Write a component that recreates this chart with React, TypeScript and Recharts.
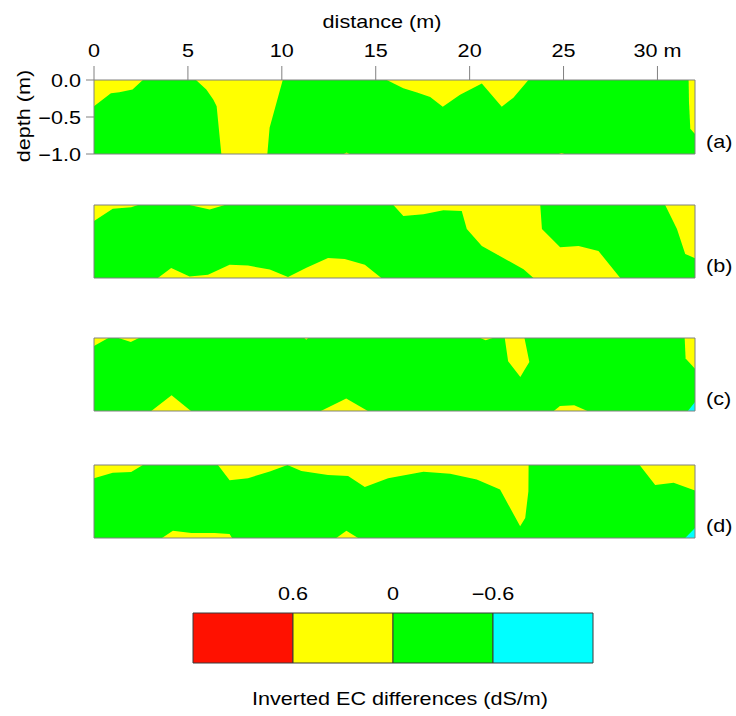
import React from 'react';
import { ComposedChart, Area, XAxis, YAxis, ReferenceLine, ReferenceArea, Label } from 'recharts';

// each point: [distance (m), lower depth, upper depth]
type Pt = [number, number, number];

const distanceTicks = [0, 5, 10, 15, 20, 25, 30];
const depthTicks = [0, -0.5, -1];
const sideTicks = [-0.5, -1];
const panelTags = ['(a)', '(b)', '(c)', '(d)'];

const fullSection: Pt[] = [[0, -1, 0], [32, -1, 0]];

// (a)
const aYellowLeft: Pt[] = [[0, -0.355, 0], [0.9, -0.18, 0], [1.35, -0.164, 0], [2.05, -0.127, 0], [2.6, 0, 0]];
const aYellowWedge: Pt[] = [[5.43, 0, 0], [5.98, -0.127, 0], [6.35, -0.264, 0], [6.53, -0.355, 0], [6.78, -1, 0], [9.23, -1, 0], [9.35, -0.645, 0], [10.05, 0, 0]];
const aYellowMid: Pt[] = [[15.59, 0, 0], [16.47, -0.11, 0], [17.2, -0.17, 0], [17.9, -0.23, 0], [18.57, -0.36, 0], [19.49, -0.2, 0], [20.65, -0.046, 0], [21.71, -0.36, 0], [22.33, -0.24, 0], [23.13, 0, 0]];
const aYellowRight: Pt[] = [[31.66, 0, 0], [31.68, -0.3, 0], [31.75, -0.66, 0], [32, -0.73, 0]];
const aYellowDot1: Pt[] = [[13.3, -1, -1], [13.45, -1, -0.98], [13.6, -1, -1]];
const aYellowDot2: Pt[] = [[24.75, -1, -1], [24.9, -1, -0.985], [25.05, -1, -1]];

// (b)
const bYellowLeft: Pt[] = [[0, -0.22, 0], [1.0, -0.05, 0], [1.98, -0.03, 0], [2.34, 0, 0]];
const bYellowTop: Pt[] = [[5.09, 0, 0], [6.16, -0.06, 0], [6.96, 0, 0]];
const bYellowBand: Pt[] = [
  [15.94, 0, 0], [16.47, -0.15, 0], [17.54, -0.127, 0], [18.6, -0.073, 0], [19.58, -0.082, 0],
  [19.85, -0.33, 0], [20.65, -0.56, 0], [21.89, -0.74, 0], [22.87, -0.88, 0], [23.4, -1, 0],
  [23.76, -1, 0], [23.85, -1, -0.33], [24.82, -1, -0.58], [25.8, -1, -0.56], [26.86, -1, -0.63], [28.02, -1, -1],
];
const bYellowRight: Pt[] = [[30.41, 0, 0], [31.04, -0.33, 0], [31.48, -0.67, 0], [32, -0.73, 0]];
const bYellowBottom: Pt[] = [
  [3.4, -1, -1], [4.11, -1, -0.862], [5.09, -1, -0.98], [6.07, -1, -0.954], [7.22, -1, -0.817],
  [8.2, -1, -0.83], [9.36, -1, -0.885], [10.33, -1, -0.986], [11.31, -1, -0.86], [12.46, -1, -0.725],
  [13.35, -1, -0.74], [14.42, -1, -0.817], [15.3, -1, -1],
];

// (c)
const cYellowCorner: Pt[] = [[0, -0.11, 0], [0.76, 0, 0]];
const cYellowTop1: Pt[] = [[1.31, 0, 0], [1.96, -0.055, 0], [2.39, 0, 0]];
const cYellowTop2: Pt[] = [[11.2, 0, 0], [11.3, -0.025, 0], [11.4, 0, 0]];
const cYellowTop3: Pt[] = [[20.57, 0, 0], [20.85, -0.03, 0], [21.22, 0, 0]];
const cYellowWedge: Pt[] = [[21.87, 0, 0], [22.05, -0.32, 0], [22.7, -0.534, 0], [22.92, -0.44, 0], [23.18, -0.33, -0.33]];
const cYellowRight: Pt[] = [[31.45, 0, 0], [31.5, -0.28, 0], [32, -0.42, 0]];
const cYellowBottom1: Pt[] = [[3.05, -1, -1], [4.13, -1, -0.785], [5.16, -1, -1]];
const cYellowBottom2: Pt[] = [[12.08, -1, -1], [13.43, -1, -0.83], [14.58, -1, -1]];
const cYellowBottom3: Pt[] = [[24.48, -1, -1], [24.81, -1, -0.93], [25.57, -1, -0.92], [26.27, -1, -1]];
const cCyanCorner: Pt[] = [[31.62, -1, -1], [32, -1, -0.877]];

// (d)
const dYellowLeft: Pt[] = [[0, -0.18, 0], [1.0, -0.105, 0], [1.98, -0.096, 0], [2.6, 0, 0]];
const dYellowMid: Pt[] = [
  [6.6, 0, 0], [7.22, -0.21, 0], [8.2, -0.18, 0], [9.36, -0.09, 0], [10.3, 0, 0], [11.04, -0.083, 0],
  [12.46, -0.138, 0], [13.53, -0.15, 0], [14.42, -0.3, 0], [15.66, -0.18, 0], [17.54, -0.092, 0],
  [18.96, -0.12, 0], [20.38, -0.197, 0], [21.62, -0.335, 0], [22.69, -0.84, 0], [22.96, -0.725, 0],
  [23.13, -0.358, 0], [23.14, 0, 0],
];
const dYellowRight: Pt[] = [[29.05, 0, 0], [29.88, -0.275, 0], [30.86, -0.243, 0], [32, -0.349, 0]];
const dYellowBottom1: Pt[] = [[3.62, -1, -1], [4.2, -1, -0.9], [5.18, -1, -0.93], [6.42, -1, -0.93], [7.22, -1, -0.945], [7.35, -1, -1]];
const dYellowBottom2: Pt[] = [[12.9, -1, -1], [13.44, -1, -0.9], [14.06, -1, -1]];
const dCyanCorner: Pt[] = [[31.48, -1, -1], [32, -1, -0.862]];

// colour scale
const ecBreaks = [1.2, 0.6, 0, -0.6, -1.2];
const ecTicks = [0.6, 0, -0.6];

const RED = '#ff1100';
const YELLOW = '#ffff00';
const GREEN = '#00ff00';
const CYAN = '#00ffff';
const ecColors = [RED, YELLOW, GREEN, CYAN];

const panels: { fill: string; pts: Pt[] }[][] = [
  [aYellowLeft, aYellowWedge, aYellowMid, aYellowRight, aYellowDot1, aYellowDot2].map(pts => ({ fill: YELLOW, pts })),
  [bYellowLeft, bYellowTop, bYellowBand, bYellowRight, bYellowBottom].map(pts => ({ fill: YELLOW, pts })),
  [
    ...[cYellowCorner, cYellowTop1, cYellowTop2, cYellowTop3, cYellowWedge, cYellowRight, cYellowBottom1, cYellowBottom2, cYellowBottom3].map(pts => ({ fill: YELLOW, pts })),
    { fill: CYAN, pts: cCyanCorner },
  ],
  [
    ...[dYellowLeft, dYellowMid, dYellowRight, dYellowBottom1, dYellowBottom2].map(pts => ({ fill: YELLOW, pts })),
    { fill: CYAN, pts: dCyanCorner },
  ],
];

// layout
const plotTops = [80, 205, 338, 465];
const plotHeights = [74, 73, 73, 73];
const FRAME = '#808080';
const FONT = '"Liberation Sans", Arial, sans-serif';

const rows = (pts: Pt[]) => pts.map(([x, lo, hi]) => ({ x, r: [lo, hi] }));
const ecRows = ecBreaks.map(v => ({ x: v, r: [0, 1] }));

const fmtDist = (v: number) => (v === 30 ? '30 m' : String(v));
const fmtDepth = (v: number) => (v === 0 ? '0.0' : '\u2212' + Math.abs(v).toFixed(1));
const fmtEc = (v: number) => (v === 0 ? '0' : v < 0 ? '\u2212' + Math.abs(v) : String(v));

// text in the figure is drawn a bit wider than the font
const SText = ({ x, y, rot = 0, anchor = 'middle', children }: any) => (
  <text
    transform={`translate(${x} ${y}) rotate(${rot}) scale(1.2 1)`}
    textAnchor={anchor}
    fontFamily={FONT}
    fontSize={18}
    fill="#000"
  >
    {children}
  </text>
);

const Panel = ({ idx }: { idx: number }) => {
  const first = idx === 0;
  const mTop = first ? 0 : 10;
  const xH = first ? 80 : 0;
  const plotH = plotHeights[idx];
  const height = mTop + xH + plotH + 10;
  const chartTop = plotTops[idx] - mTop - xH;

  return (
    <div style={{ position: 'absolute', left: 0, top: chartTop }}>
      <ComposedChart width={736} height={height} margin={{ top: mTop, right: 11, bottom: 10, left: 34 }}>
        <XAxis
          xAxisId="x"
          type="number"
          dataKey="x"
          orientation="top"
          domain={[0, 32]}
          allowDataOverflow
          hide={!first}
          height={xH}
          ticks={distanceTicks}
          interval={0}
          tickSize={14}
          stroke={FRAME}
          tick={(p: any) => <SText x={p.x} y={56.5}>{fmtDist(p.payload.value)}</SText>}
        >
          {first && <Label content={() => <SText x={382} y={28}>distance (m)</SText>} />}
        </XAxis>
        <YAxis
          yAxisId="y"
          type="number"
          domain={[-1, 0]}
          allowDataOverflow
          ticks={first ? depthTicks : sideTicks}
          interval={0}
          width={60}
          tickSize={8}
          stroke={FRAME}
          tick={first ? (p: any) => <SText x={81} y={p.y + 6.5} anchor="end">{fmtDepth(p.payload.value)}</SText> : false}
        >
          {first && <Label content={() => <SText x={29.5} y={116} rot={-90}>depth (m)</SText>} />}
        </YAxis>
        <YAxis
          yAxisId="r"
          orientation="right"
          type="number"
          domain={[-1, 0]}
          allowDataOverflow
          ticks={sideTicks}
          interval={0}
          width={30}
          tickSize={8}
          stroke={FRAME}
          tick={false}
        >
          <Label content={() => <SText x={706} y={mTop + xH + plotH - 5.7} anchor="start">{panelTags[idx]}</SText>} />
        </YAxis>

        <Area
          xAxisId="x"
          yAxisId="y"
          data={rows(fullSection)}
          dataKey="r"
          type="linear"
          fill={GREEN}
          fillOpacity={1}
          stroke="none"
          dot={false}
          activeDot={false}
          isAnimationActive={false}
        />
        {panels[idx].map((reg, i) => (
          <Area
            key={i}
            xAxisId="x"
            yAxisId="y"
            data={rows(reg.pts)}
            dataKey="r"
            type="linear"
            fill={reg.fill}
            fillOpacity={1}
            stroke="none"
            dot={false}
            activeDot={false}
            isAnimationActive={false}
          />
        ))}

        <ReferenceLine xAxisId="x" yAxisId="y" y={-1} stroke={FRAME} />
        {!first && <ReferenceLine xAxisId="x" yAxisId="y" y={0} stroke={FRAME} />}
      </ComposedChart>
    </div>
  );
};

const ColourBar = () => (
  <div style={{ position: 'absolute', left: 0, top: 570 }}>
    <ComposedChart width={736} height={146} data={ecRows} margin={{ top: 0, right: 143, bottom: 0, left: 193 }}>
      <XAxis
        xAxisId="t"
        type="number"
        dataKey="x"
        orientation="top"
        domain={[-1.2, 1.2]}
        reversed
        allowDataOverflow
        ticks={ecTicks}
        interval={0}
        height={43}
        axisLine={false}
        tickLine={false}
        tick={(p: any) => <SText x={p.x} y={30}>{fmtEc(p.payload.value)}</SText>}
      />
      <XAxis
        xAxisId="b"
        type="number"
        dataKey="x"
        orientation="bottom"
        domain={[-1.2, 1.2]}
        reversed
        allowDataOverflow
        height={53}
        axisLine={false}
        tickLine={false}
        tick={false}
      >
        <Label content={() => <SText x={400} y={135}>Inverted EC differences (dS/m)</SText>} />
      </XAxis>
      <YAxis yAxisId="c" type="number" domain={[0, 1]} allowDataOverflow hide />
      <Area
        xAxisId="t"
        yAxisId="c"
        dataKey="r"
        type="linear"
        fill="none"
        stroke="none"
        dot={false}
        activeDot={false}
        isAnimationActive={false}
      />
      {ecColors.map((c, i) => (
        <ReferenceArea
          key={c}
          xAxisId="t"
          yAxisId="c"
          x1={ecBreaks[i]}
          x2={ecBreaks[i + 1]}
          y1={0}
          y2={1}
          fill={c}
          fillOpacity={1}
          stroke="#3a3a3a"
          strokeWidth={1}
          ifOverflow="visible"
        />
      ))}
    </ComposedChart>
  </div>
);

export default function App() {
  return (
    <div style={{ position: 'absolute', left: 0, top: 0, width: 736, height: 716, background: '#fff' }}>
      {panelTags.map((_, i) => (
        <Panel key={i} idx={i} />
      ))}
      <ColourBar />
    </div>
  );
}
